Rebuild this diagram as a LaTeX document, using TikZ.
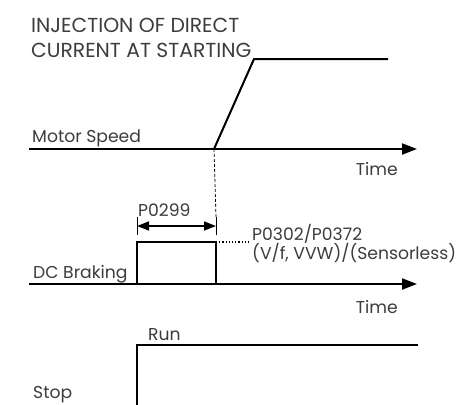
\documentclass[tikz,border=0pt]{standalone}
\usepackage{fontspec}
\setmainfont{Poppins}
\usetikzlibrary{arrows.meta,positioning,calc}
\definecolor{lbgray}{RGB}{60,60,60}
\tikzset{
  axis/.style={line width=2pt, -{Triangle[length=15pt,width=11pt]}},
  trace/.style={line width=2pt},
  lbl/.style={font=\fontsize{17.2}{20}\selectfont, text=lbgray, inner sep=0pt},
  dimline/.style={line width=1.6pt, {Triangle[length=12pt,width=9pt]}-{Triangle[length=12pt,width=9pt]}},
  tick/.style={line width=0.8pt}
}
\begin{document}
\begin{tikzpicture}[x=1pt,y=-1pt]
    \useasboundingbox (0,0) rectangle (456,405);
    % Title
    \node[lbl, font=\fontsize{20.3}{25}\selectfont, anchor=base west] (titleA) at (31,32)
      {INJECTION OF DIRECT};
    \node[lbl, font=\fontsize{20.3}{25}\selectfont, anchor=base west] (titleB) at (31,57)
      {CURRENT AT STARTING};

    % Motor speed trace
    \coordinate (msA) at (29,149);
    \coordinate (msB) at (417,149);
    \coordinate (rampA) at (214,149);
    \coordinate (rampB) at (254,59);
    \coordinate (rampC) at (388,59);
    \draw[axis] (msA) -- (msB);
    \draw[trace, line join=miter] (rampA) -- (rampB) -- (rampC);
    \node[lbl, anchor=base west] (msLbl) at (32,142) {Motor Speed};
    \node[lbl, anchor=base east] (timeA) at (398,175) {Time};

    % DC braking pulse
    \coordinate (dcA) at (29,284);
    \coordinate (dcB) at (417,284);
    \coordinate (pulseA) at (137,284);
    \coordinate (pulseB) at (137,242);
    \coordinate (pulseC) at (216,242);
    \coordinate (pulseD) at (216,284);
    \coordinate (dotEnd) at (250,242);
    \draw[axis] (dcA) -- (dcB);
    \draw[line width=1.6pt] (pulseA) -- (pulseB) -- (pulseC) -- (pulseD);
    \draw[line width=1.2pt, dotted] (pulseC) -- (dotEnd);
    \node[lbl, anchor=base west] (dcLbl) at (33,278) {DC Braking};
    \node[lbl, anchor=base east] (timeB) at (398,313) {Time};

    % P0299 dimension
    \coordinate (tickLA) at (137,217);
    \coordinate (tickLB) at (137,235);
    \coordinate (tickRA) at (216,217);
    \coordinate (tickRB) at (216,235);
    \draw[tick] (tickLA) -- (tickLB);
    \draw[tick] (tickRA) -- (tickRB);
    \draw[tick, dashed, dash pattern=on 3pt off 2pt] (rampA) -- (tickRA);
    \draw[dimline] ($(tickLA)!0.5!(tickLB)$) -- ($(tickRA)!0.5!(tickRB)$);
    \node[lbl, anchor=base west] (pDur) at (138,216) {P0299};
    \node[lbl, anchor=base west] (pCur) at (252,240) {P0302/P0372};
    \node[lbl, anchor=base west] (pMode) at (252,259) {(V/f, VVW)/(Sensorless)};

    % Run / Stop command
    \coordinate (cmdA) at (137,405);
    \coordinate (cmdB) at (137,345);
    \coordinate (cmdC) at (418,345);
    \draw[trace, line join=miter] (cmdA) -- (cmdB) -- (cmdC);
    \node[lbl, anchor=base west] (runLbl) at (148,340) {Run};
    \node[lbl, anchor=base west] (stopLbl) at (33,398) {Stop};
\end{tikzpicture}
\end{document}
